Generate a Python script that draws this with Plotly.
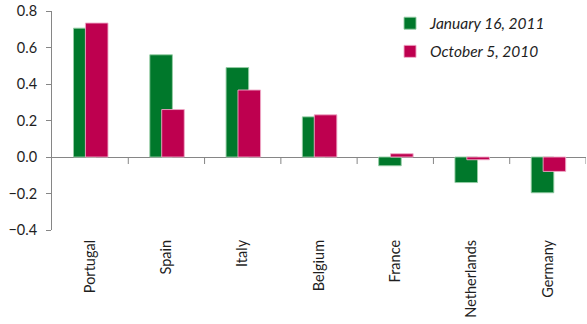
import plotly.graph_objects as go

# Spread change by country, two observation dates
countries = ["Portugal", "Spain", "Italy", "Belgium", "France", "Netherlands", "Germany"]
jan_2011 = [0.706, 0.56, 0.49, 0.22, -0.048, -0.14, -0.196]
oct_2010 = [0.734, 0.26, 0.367, 0.231, 0.018, -0.015, -0.079]
y_ticks = [-0.4, -0.2, 0.0, 0.2, 0.4, 0.6, 0.8]

GREEN = "#00782B"
PINK = "#BE004F"
AXIS = "#868686"
FONT = "Lato"

x_pos = list(range(len(countries)))
bar_w = 0.296

fig = go.Figure()
fig.add_trace(go.Bar(
    x=x_pos, y=jan_2011, name="January 16, 2011",
    width=bar_w, offset=-0.218,
    marker=dict(color=GREEN, line=dict(color="rgba(150,205,165,0.9)", width=1)),
    legendgroup="a",
))
fig.add_trace(go.Bar(
    x=x_pos, y=oct_2010, name="October 5, 2010",
    width=bar_w, offset=-0.062,
    marker=dict(color=PINK, line=dict(color="rgba(240,170,200,0.9)", width=1)),
    legendgroup="b",
))

# small tick marks on the zero line between categories
for k in range(len(countries)):
    fig.add_shape(
        type="line", xref="x", yref="y", x0=k + 0.5, x1=k + 0.5,
        ysizemode="pixel", yanchor=0, y0=0, y1=-7,
        line=dict(color=AXIS, width=1),
    )

fig.update_layout(
    width=587, height=324,
    margin=dict(l=52, r=1, t=11, b=94),
    paper_bgcolor="white", plot_bgcolor="white",
    barmode="overlay",
    font=dict(family=FONT, size=14.5, color="#1e1e1e"),
    showlegend=True,
    legend=dict(
        x=0.633, y=1.02, xanchor="left", yanchor="top",
        font=dict(family=FONT, size=15.5, style="italic", color="#1e1e1e"),
        tracegroupgap=5, bgcolor="rgba(0,0,0,0)",
    ),
    xaxis=dict(
        range=[-0.5, len(countries) - 0.5],
        tickvals=x_pos, ticktext=countries, tickangle=-90,
        showgrid=False, zeroline=False, showline=False, ticks="",
        ticklabelstandoff=6,
    ),
    yaxis=dict(
        range=[-0.4, 0.8], tickvals=y_ticks, tickformat=".1f",
        showgrid=False, showline=True, linecolor=AXIS, linewidth=1,
        ticks="outside", ticklen=5, tickcolor=AXIS,
        ticklabelstandoff=6,
        zeroline=True, zerolinecolor=AXIS, zerolinewidth=1,
    ),
)

fig.write_html("out.html")
